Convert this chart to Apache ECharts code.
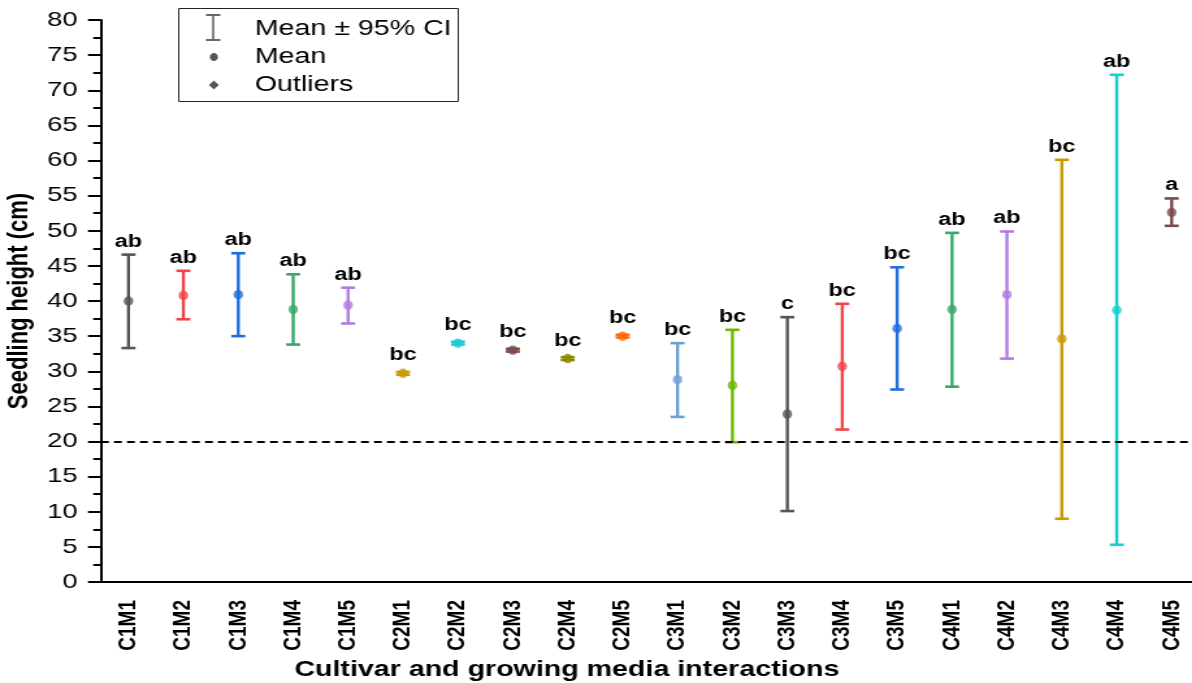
<!DOCTYPE html>
<html>
<head>
<meta charset="utf-8">
<script src="https://cdn.jsdelivr.net/npm/echarts@6/dist/echarts.min.js"></script>
<style>
  html, body { margin: 0; padding: 0; background: #fff; overflow: hidden; }
  /* the source figure is stretched sideways, so draw narrow and widen it */
  #chart { width: 917px; height: 683px; transform: scaleX(1.3); transform-origin: 0 0; }
</style>
</head>
<body>
<div id="chart"></div>
<script>
// cultivar x growing media combinations
var categories = ['C1M1', 'C1M2', 'C1M3', 'C1M4', 'C1M5',
                  'C2M1', 'C2M2', 'C2M3', 'C2M4', 'C2M5',
                  'C3M1', 'C3M2', 'C3M3', 'C3M4', 'C3M5',
                  'C4M1', 'C4M2', 'C4M3', 'C4M4', 'C4M5'];
var means  = [40.0, 40.8, 40.9, 38.8, 39.4, 29.7, 34.0, 33.0, 31.8, 35.0,
              28.8, 28.0, 23.9, 30.7, 36.1, 38.8, 40.9, 34.6, 38.7, 52.6];
var lower  = [33.3, 37.4, 35.0, 33.8, 36.8, 29.5, 33.8, 32.8, 31.6, 34.8,
              23.5, 19.9, 10.1, 21.7, 27.4, 27.8, 31.8, 9.0, 5.3, 50.7];
var upper  = [46.6, 44.3, 46.8, 43.8, 41.9, 29.9, 34.2, 33.2, 32.0, 35.2,
              34.0, 35.9, 37.7, 39.6, 44.8, 49.7, 49.9, 60.1, 72.2, 54.6];
var letters = ['ab', 'ab', 'ab', 'ab', 'ab', 'bc', 'bc', 'bc', 'bc', 'bc',
               'bc', 'bc', 'c', 'bc', 'bc', 'ab', 'ab', 'bc', 'ab', 'a'];
var colors = ['#555555', '#f0464b', '#1f6ddf', '#38a86a', '#b27ce0',
              '#c99a00', '#18cdd3', '#7a4b4b', '#8c8a00', '#ff6a10',
              '#6d9fd2', '#6cb800', '#555555', '#f0464b', '#1f6ddf',
              '#38a86a', '#b27ce0', '#c99a00', '#10d0d0', '#7a4b4b'];
var threshold = 20;

var FONT = '"Liberation Sans", Arial, sans-serif';
var SX = 1.3; // horizontal stretch applied by css

function renderBar(params, api) {
    var i = api.value(0);
    var bot = api.coord([i, api.value(1)]);
    var top = api.coord([i, api.value(2)]);
    var mid = api.coord([i, means[i]]);
    var hw = 7 / SX;
    var stem = { stroke: colors[i], lineWidth: 2.4 };
    var cap = { stroke: colors[i], lineWidth: 2.6 };
    var ty = Math.min(top[1], mid[1] - 5) - 4;
    return {
        type: 'group',
        children: [
            { type: 'line', shape: { x1: top[0], y1: top[1], x2: bot[0], y2: bot[1] }, style: stem },
            { type: 'line', shape: { x1: top[0] - hw, y1: top[1], x2: top[0] + hw, y2: top[1] }, style: cap },
            { type: 'line', shape: { x1: bot[0] - hw, y1: bot[1], x2: bot[0] + hw, y2: bot[1] }, style: cap },
            { type: 'text', style: { text: letters[i], x: top[0], y: ty, align: 'center', verticalAlign: 'bottom',
                font: 'bold 18px ' + FONT, fill: '#000' } }
        ]
    };
}

var chart = echarts.init(document.getElementById('chart'));
chart.setOption({
    animation: false,
    grid: { left: 77.7, right: -5.4, top: 20, bottom: 101, containLabel: false, outerBoundsMode: 'none' },
    xAxis: {
        type: 'category',
        data: categories,
        boundaryGap: true,
        name: 'Cultivar and growing media interactions',
        nameLocation: 'middle',
        nameGap: 74,
        nameTextStyle: { fontFamily: FONT, fontWeight: 'bold', fontSize: 22, color: '#000',
                         align: 'center', verticalAlign: 'top', padding: [0, 128, 0, 0] },
        axisLine: { lineStyle: { color: '#000', width: 2 } },
        axisTick: { alignWithLabel: true, length: 11, lineStyle: { color: '#000', width: 2 } },
        axisLabel: { rotate: 90, margin: 18, fontFamily: FONT, fontWeight: 'bold', fontSize: 19, color: '#000' },
        splitLine: { show: false }
    },
    yAxis: {
        type: 'value',
        min: 0, max: 80, interval: 5,
        name: 'Seedling height (cm)',
        nameLocation: 'middle',
        nameGap: 49,
        nameTextStyle: { fontFamily: FONT, fontWeight: 'bold', fontSize: 22, color: '#000' },
        axisLine: { show: true, lineStyle: { color: '#000', width: 2 } },
        axisTick: { show: true, length: 10, lineStyle: { color: '#000', width: 2 } },
        minorTick: { show: true, splitNumber: 2, length: 6, lineStyle: { color: '#000', width: 2 } },
        axisLabel: { margin: 18, fontFamily: FONT, fontSize: 21, color: '#000' },
        splitLine: { show: false }
    },
    series: [
        {
            type: 'custom',
            renderItem: renderBar,
            data: categories.map(function (c, i) { return [i, lower[i], upper[i]]; }),
            encode: { x: 0, y: [1, 2] },
            z: 2,
            markLine: {
                silent: true,
                symbol: 'none',
                label: { show: false },
                lineStyle: { color: '#000', type: [6, 4], width: 2 },
                data: [{ yAxis: threshold }]
            }
        },
        {
            type: 'scatter',
            symbol: 'circle',
            symbolSize: [7.4, 9.5],
            z: 3,
            data: means.map(function (m, i) {
                return { value: [i, m], itemStyle: { color: colors[i] } };
            })
        }
    ],
    graphic: [
        { type: 'rect', shape: { x: 137.5, y: 8.5, width: 215, height: 93 },
          style: { fill: '#fff', stroke: '#222', lineWidth: 1 }, z: 10 },
        { type: 'polyline', shape: { points: [[158.5, 15], [169.5, 15]] }, style: { stroke: '#666', lineWidth: 2 }, z: 11 },
        { type: 'polyline', shape: { points: [[164, 15], [164, 40]] }, style: { stroke: '#666', lineWidth: 1.6 }, z: 11 },
        { type: 'polyline', shape: { points: [[158.5, 40], [169.5, 40]] }, style: { stroke: '#666', lineWidth: 2 }, z: 11 },
        { type: 'ellipse', shape: { cx: 164.5, cy: 57, rx: 3.1, ry: 4 }, style: { fill: '#555' }, z: 11 },
        { type: 'polygon', shape: { points: [[164.5, 80.5], [168.3, 85], [164.5, 89.5], [160.7, 85]] }, style: { fill: '#555' }, z: 11 },
        { type: 'text', style: { text: 'Mean \u00b1 95% CI', x: 196, y: 29, verticalAlign: 'middle', font: '22px ' + FONT, fill: '#000' }, z: 11 },
        { type: 'text', style: { text: 'Mean', x: 196, y: 57, verticalAlign: 'middle', font: '22px ' + FONT, fill: '#000' }, z: 11 },
        { type: 'text', style: { text: 'Outliers', x: 196, y: 85, verticalAlign: 'middle', font: '22px ' + FONT, fill: '#000' }, z: 11 }
    ]
});
</script>
</body>
</html>
